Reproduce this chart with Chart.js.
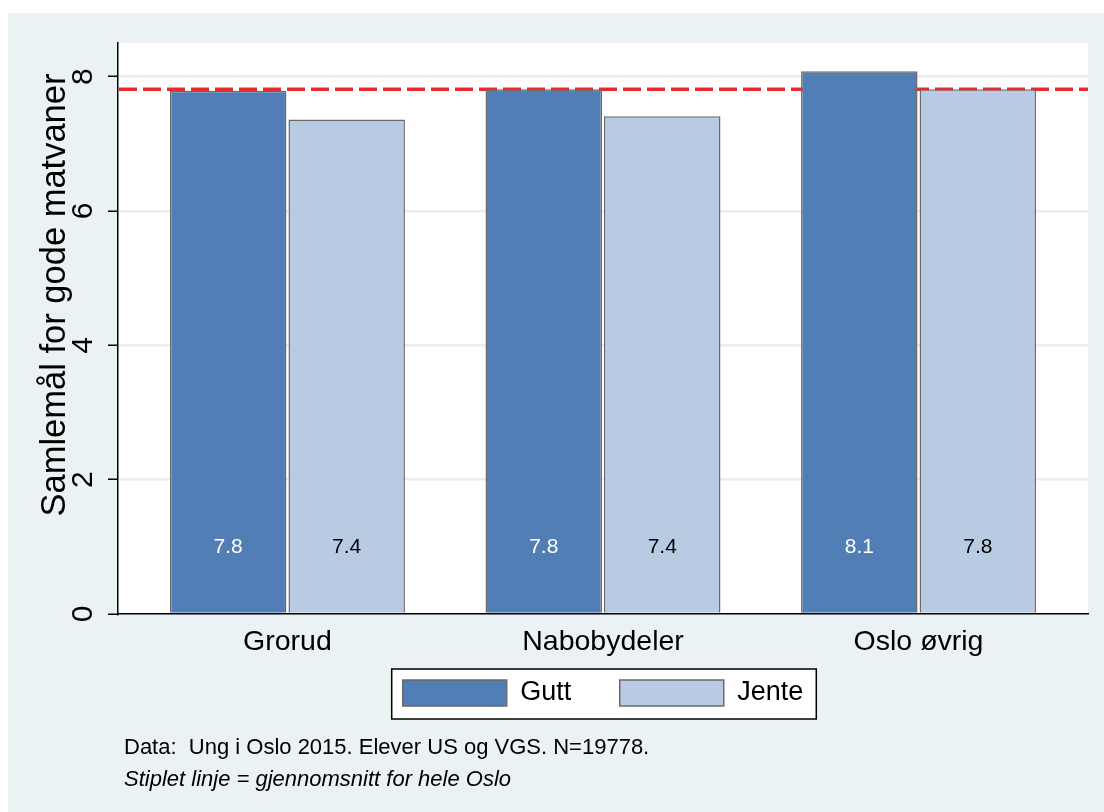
<!DOCTYPE html>
<html>
<head>
<meta charset="utf-8">
<script src="https://cdn.jsdelivr.net/npm/chart.js@4"></script>
<style>
html, body { margin: 0; padding: 0; background: #ffffff; }
#wrap { width: 1104px; height: 812px; position: relative; }
canvas { display: block; }
</style>
</head>
<body>
<div id="wrap"><canvas id="c" width="1104" height="812"></canvas></div>
<script>
// ---- data ----
const categories = ['Grorud', 'Nabobydeler', 'Oslo øvrig'];
const seriesNames = ['Gutt', 'Jente'];
const guttValues = [7.79, 7.81, 8.08];
const jenteValues = [7.36, 7.41, 7.81];
const osloAverage = 7.81;
const yTicks = [0, 2, 4, 6, 8];
const yTitle = 'Samlemål for gode matvaner';
const noteLine1 = 'Data:  Ung i Oslo 2015. Elever US og VGS. N=19778.';
const noteLine2 = 'Stiplet linje = gjennomsnitt for hele Oslo';
const valueLabelLevel = 1;

const FONT = "'Liberation Sans', Arial, Helvetica, sans-serif";
const xPositions = categories.map((c, i) => i);

Chart.defaults.font.family = FONT;
Chart.defaults.color = '#000000';

const decorPlugin = {
  id: 'decor',
  afterLayout(chart) {
    // let the category labels draw below the thin axis box without being clipped
    const x = chart.scales.x;
    x.bottom = x.top + 56;
  },
  beforeDraw(chart) {
    const { ctx, chartArea: a } = chart;
    ctx.save();
    ctx.fillStyle = '#ffffff';
    ctx.fillRect(0, 0, chart.width, chart.height);
    ctx.fillStyle = '#eaf2f3';
    ctx.fillRect(8, 13, chart.width - 8, chart.height - 13);
    ctx.fillStyle = '#ffffff';
    ctx.fillRect(a.left, a.top, a.right - a.left, a.bottom - a.top);
    // legend frame
    const hb = chart.legend && chart.legend.legendHitBoxes;
    if (hb && hb.length) {
      const first = hb[0], last = hb[hb.length - 1];
      const l = first.left - 11, r = last.left + last.width + 13;
      const t = first.top - 10.5, b = first.top + first.height + 12.5;
      ctx.fillStyle = '#ffffff';
      ctx.fillRect(l, t, r - l, b - t);
      ctx.strokeStyle = '#000000';
      ctx.lineWidth = 1.5;
      ctx.strokeRect(l, t, r - l, b - t);
    }
    ctx.restore();
  },
  beforeDatasetsDraw(chart) {
    const { ctx, chartArea: a, scales: { y } } = chart;
    const py = y.getPixelForValue(osloAverage);
    ctx.save();
    ctx.strokeStyle = '#ea2a2a';
    ctx.lineWidth = 3.5;
    ctx.setLineDash([18, 6]);
    ctx.beginPath();
    ctx.moveTo(a.left + 1, py);
    ctx.lineTo(a.right, py);
    ctx.stroke();
    ctx.restore();
  },
  afterDatasetsDraw(chart) {
    const { ctx, scales: { y } } = chart;
    const py = y.getPixelForValue(valueLabelLevel);
    const colors = ['#ffffff', '#000000'];
    ctx.save();
    ctx.font = '21px ' + FONT;
    ctx.textAlign = 'center';
    ctx.textBaseline = 'middle';
    chart.data.datasets.forEach((ds, di) => {
      const meta = chart.getDatasetMeta(di);
      ctx.fillStyle = colors[di];
      meta.data.forEach((bar, i) => {
        ctx.fillText(ds.data[i].toFixed(1), bar.x, py);
      });
    });
    ctx.restore();
  },
  afterDraw(chart) {
    const { ctx } = chart;
    ctx.save();
    ctx.fillStyle = '#000000';
    ctx.translate(65, 295);
    ctx.rotate(-Math.PI / 2);
    ctx.font = '34.5px ' + FONT;
    ctx.textAlign = 'center';
    ctx.textBaseline = 'alphabetic';
    ctx.fillText(yTitle, 0, 0);
    ctx.restore();

    ctx.save();
    ctx.fillStyle = '#000000';
    ctx.textAlign = 'left';
    ctx.textBaseline = 'alphabetic';
    ctx.font = '22px ' + FONT;
    ctx.fillText(noteLine1, 124, 754);
    ctx.font = 'italic 22px ' + FONT;
    ctx.fillText(noteLine2, 124, 786);
    ctx.restore();
  }
};

new Chart(document.getElementById('c'), {
  type: 'bar',
  data: {
    labels: xPositions,
    datasets: [
      {
        label: seriesNames[0],
        data: guttValues,
        backgroundColor: '#517eb4',
        borderColor: '#6a6a6a',
        borderWidth: 1.5,
        categoryPercentage: 0.751,
        barPercentage: 0.983
      },
      {
        label: seriesNames[1],
        data: jenteValues,
        backgroundColor: '#b9cbe2',
        borderColor: '#6a6a6a',
        borderWidth: 1.5,
        categoryPercentage: 0.751,
        barPercentage: 0.983
      }
    ]
  },
  options: {
    responsive: false,
    animation: false,
    events: [],
    devicePixelRatio: 1,
    layout: { padding: { left: 0, top: 43, right: 16, bottom: 95.5 } },
    scales: {
      x: {
        type: 'linear',
        min: -0.537,
        max: 2.537,
        offset: false,
        afterBuildTicks: (s) => { s.ticks = xPositions.map(v => ({ value: v })); },
        afterFit: (s) => { s.height = 17; },
        ticks: {
          callback: (v) => categories[v],
          font: { size: 28.5, family: FONT },
          color: '#000000',
          padding: 3,
          autoSkip: false,
          maxRotation: 0,
          minRotation: 0
        },
        grid: { display: false },
        border: { display: true, color: '#000000', width: 1.5, z: 1 }
      },
      y: {
        min: 0,
        max: 8.5,
        afterBuildTicks: (s) => { s.ticks = yTicks.map(v => ({ value: v })); },
        afterFit: (s) => { s.width = 118; },
        ticks: {
          font: { size: 30, family: FONT },
          color: '#000000',
          minRotation: 90,
          maxRotation: 90,
          crossAlign: 'center',
          padding: 15.5
        },
        grid: {
          color: '#e6eef0',
          lineWidth: 2.5,
          drawTicks: true,
          tickColor: '#000000',
          tickWidth: 1.5,
          tickLength: 10
        },
        border: { display: true, color: '#000000', width: 1.5, z: 1 }
      }
    },
    plugins: {
      legend: {
        display: true,
        position: 'bottom',
        fullSize: false,
        labels: {
          boxWidth: 104,
          boxHeight: 26,
          padding: 48.5,
          color: '#000000',
          font: { size: 27, family: FONT }
        }
      },
      tooltip: { enabled: false },
      title: { display: false }
    }
  },
  plugins: [decorPlugin]
});
</script>
</body>
</html>
